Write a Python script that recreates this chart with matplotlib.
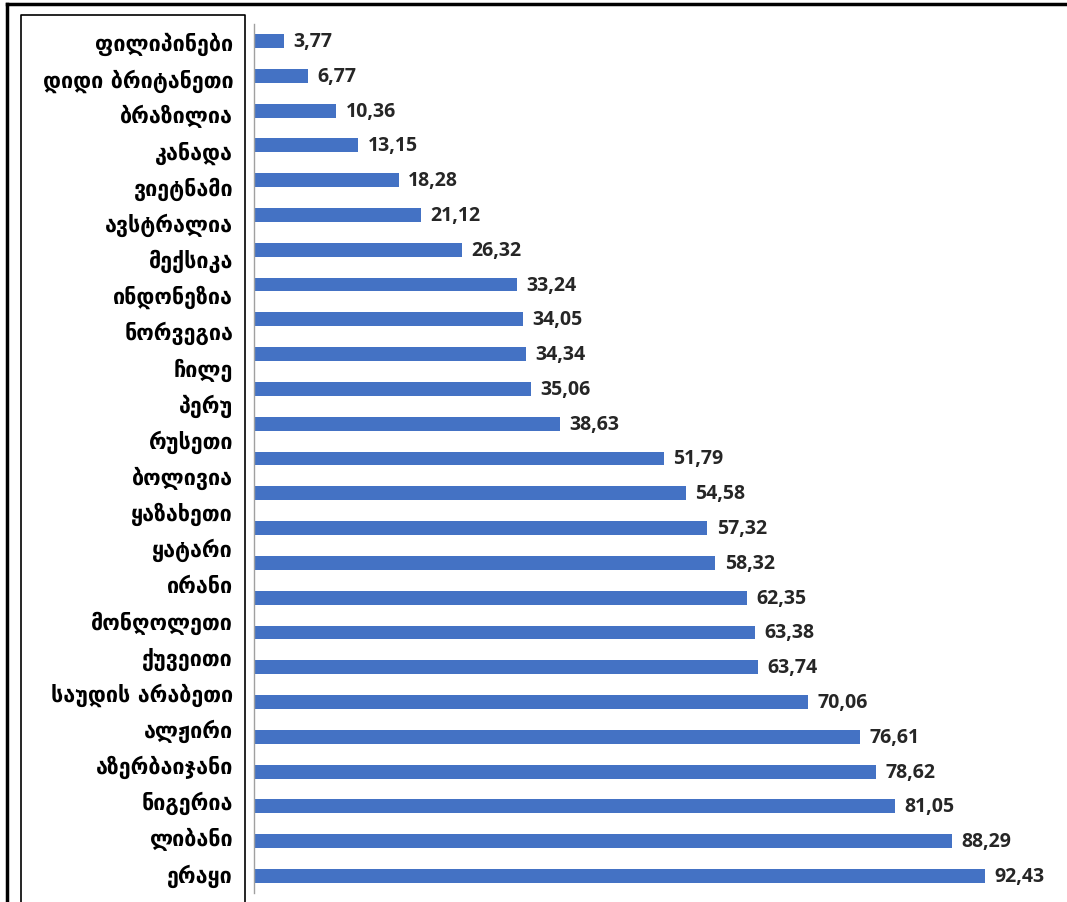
import matplotlib
matplotlib.use("Agg")
import matplotlib.pyplot as plt
import numpy as np
from matplotlib.lines import Line2D

# the source chart has 24 country names next to 25 bars
countries = ["ფილიპინები", "დიდი ბრიტანეთი", "ბრაზილია", "კანადა", "ვიეტნამი",
             "ავსტრალია", "მექსიკა", "ინდონეზია", "ნორვეგია", "ჩილე", "პერუ",
             "რუსეთი", "ბოლივია", "ყაზახეთი", "ყატარი", "ირანი", "მონღოლეთი",
             "ქუვეითი", "საუდის არაბეთი", "ალჟირი", "აზერბაიჯანი", "ნიგერია",
             "ლიბანი", "ერაყი"]
values = [3.77, 6.77, 10.36, 13.15, 18.28, 21.12, 26.32, 33.24, 34.05, 34.34,
          35.06, 38.63, 51.79, 54.58, 57.32, 58.32, 62.35, 63.38, 63.74, 70.06,
          76.61, 78.62, 81.05, 88.29, 92.43]

W, H = 1067, 903
fig = plt.figure(figsize=(W / 100, H / 100), dpi=100)
ax = fig.add_axes([254 / W, 1 - 894.4 / H, 1 - 254 / W, (894.4 - 24.6) / H])

y = list(range(len(values)))
ax.barh(y, values, height=0.4, color="#4472C4")
ax.set_ylim(len(values) - 0.5, -0.5)
ax.set_xlim(0, 102.8)

for yi, v in zip(y, values):
    ax.text(v + 1.2, yi, f"{v:.2f}".replace(".", ","), va="center", ha="left",
            fontsize=14, fontweight="bold", color="#262626", family="Open Sans")

# labels spread evenly over the bar range, so they drift from the bars
label_pos = np.linspace(0, len(values) - 1.1, len(countries))
ax.set_yticks(label_pos)
ax.set_yticklabels(countries, fontsize=15.5, fontweight="bold", family="DejaVu Sans")
ax.tick_params(axis="y", length=0, pad=15)
ax.set_xticks([])
for s in ["top", "right", "bottom"]:
    ax.spines[s].set_visible(False)
ax.spines["left"].set_color("#a0a0a0")
ax.spines["left"].set_linewidth(1.0)

# frames around the picture
def px(x, yv):
    return x / W, 1 - yv / H

fig.add_artist(Line2D([px(7, 0)[0], px(7, 0)[0]], [px(0, 5)[1], 0], color="black", lw=2.5, transform=fig.transFigure))
fig.add_artist(Line2D([px(7, 0)[0], 1], [px(0, 5)[1], px(0, 5)[1]], color="black", lw=2.5, transform=fig.transFigure))
fig.add_artist(Line2D([px(21, 0)[0], px(21, 0)[0], px(245, 0)[0], px(245, 0)[0]],
                      [0, px(0, 16)[1], px(0, 16)[1], 0], color="black", lw=1.2, transform=fig.transFigure))

fig.savefig("out.png", dpi=100)
